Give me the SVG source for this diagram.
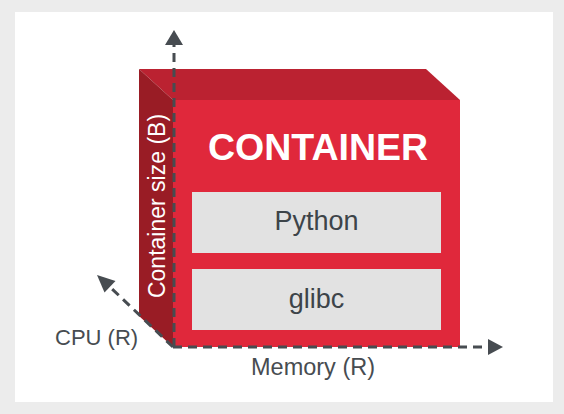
<svg xmlns="http://www.w3.org/2000/svg" width="564" height="414" viewBox="0 0 564 414">
  <style>
    .axis { fill: none; stroke: #474c51; stroke-width: 3; stroke-dasharray: 9 6; }
    .head { fill: #474c51; }
    .lbl { font-family: "Liberation Sans", Arial, sans-serif; fill: #474c51; }
    .box { fill: #e2e2e2; }
    .boxtxt { font-family: "Liberation Sans", Arial, sans-serif; font-size: 27px; fill: #3d4449; text-anchor: middle; }
  </style>
  <rect x="0" y="0" width="564" height="414" fill="#ececec"/>
  <rect x="15" y="12" width="538" height="390" fill="#ffffff"/>

  <g id="container">
    <polygon points="139,69 426,69 460,100 173,100" fill="#bb2231"/>
    <polygon points="139,69 173,100 173,347 139,316" fill="#991c25"/>
    <rect x="173" y="100" width="287" height="247" fill="#e0283b"/>
    <text x="318" y="160" font-family="Liberation Sans, Arial, sans-serif" font-weight="bold" font-size="37.5" fill="#ffffff" text-anchor="middle">CONTAINER</text>
    <text transform="translate(164.5,206) rotate(-90)" font-family="Liberation Sans, Arial, sans-serif" font-size="23" fill="#ffffff" text-anchor="middle">Container size (B)</text>
  </g>

  <g id="python">
    <rect class="box" x="192" y="192" width="249" height="61"/>
    <text class="boxtxt" x="316.5" y="230">Python</text>
  </g>

  <g id="glibc">
    <rect class="box" x="192" y="269" width="249" height="61"/>
    <text class="boxtxt" x="316.5" y="307.5">glibc</text>
  </g>

  <g id="connectors">
    <line class="axis" x1="174" y1="347" x2="174" y2="45"/>
    <polygon class="head" points="174,30 183,45 165,45"/>
    <line class="axis" x1="173" y1="347" x2="488" y2="347"/>
    <polygon class="head" points="503,347 488,355 488,339"/>
    <line class="axis" x1="173" y1="347" x2="109" y2="286"/>
    <polygon class="head" points="97,275 115.5,281 104.5,292.5"/>
  </g>

  <g id="labels">
    <text class="lbl" x="55" y="345" font-size="22">CPU (R)</text>
    <text class="lbl" x="313" y="375" font-size="23.5" text-anchor="middle">Memory (R)</text>
  </g>
</svg>
